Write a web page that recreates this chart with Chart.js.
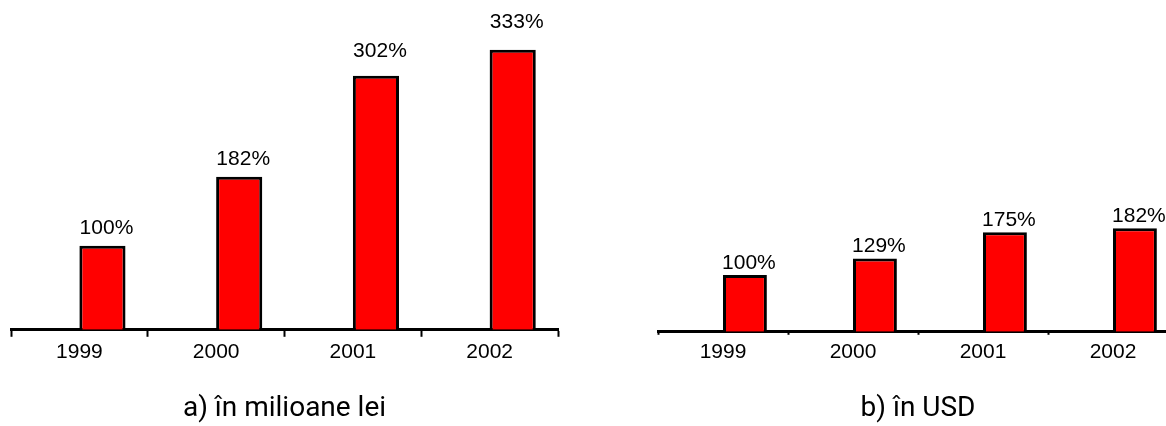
<!DOCTYPE html>
<html>
<head>
<meta charset="utf-8">
<script src="https://cdn.jsdelivr.net/npm/chart.js@4/dist/chart.umd.min.js"></script>
<style>
  html, body { margin: 0; padding: 0; background: #fff; overflow: hidden; }
  body { width: 1166px; height: 426px; position: relative; }
  canvas { position: absolute; top: 0; }
  #chartLei { left: 0; }
  #chartUsd { left: 646px; }
</style>
</head>
<body>
<canvas id="chartLei" width="570" height="426"></canvas>
<canvas id="chartUsd" width="544" height="426"></canvas>
<script>
// Data
const years = ['1999', '2000', '2001', '2002'];
const leiValues = [100, 182, 302, 333];
const usdValues = [100, 129, 175, 182];
const titleLei = 'a) în milioane lei';
const titleUsd = 'b) în USD';

const fontFamily = '"Liberation Sans", Arial, sans-serif';
const titleFamily = 'Roboto, "Liberation Sans", sans-serif';

// Small plugin that writes "NNN%" above each bar
const percentLabels = {
    id: 'percentLabels',
    afterDatasetsDraw(chart, args, opts) {
        const ctx = chart.ctx;
        const meta = chart.getDatasetMeta(1);
        const values = chart.data.datasets[1].data;
        ctx.save();
        ctx.font = '21px ' + fontFamily;
        ctx.fillStyle = '#000';
        ctx.textAlign = 'center';
        ctx.textBaseline = 'alphabetic';
        meta.data.forEach((bar, i) => {
            const lift = opts.lift[i];
            ctx.fillText(values[i] + '%', bar.x + 4, bar.y - lift);
        });
        ctx.restore();
    }
};

function makeChart(id, values, title, yMax, opt) {
    const ctx = document.getElementById(id).getContext('2d');
    return new Chart(ctx, {
        type: 'bar',
        data: {
            labels: years,
            datasets: [
                { data: years.map(() => null) },   // empty series, keeps bar right of centre
                {
                    data: values,
                    backgroundColor: '#ff0000',
                    borderColor: '#000',
                    borderWidth: 3
                }
            ]
        },
        options: {
            responsive: false,
            animation: false,
            devicePixelRatio: 1,
            layout: { padding: { left: opt.padLeft, right: opt.padRight, top: 0, bottom: 0 } },
            datasets: { bar: { barPercentage: 1, categoryPercentage: 0.675 } },
            scales: {
                x: {
                    grid: {
                        drawOnChartArea: false,
                        drawTicks: true,
                        tickLength: opt.tickLength,
                        tickWidth: 2,
                        tickColor: '#000',
                        offset: true
                    },
                    border: { color: '#000', width: 3 },
                    ticks: {
                        color: '#000',
                        font: { family: fontFamily, size: 21 },
                        padding: opt.tickPadding
                    }
                },
                y: { display: false, min: 0, max: yMax }
            },
            plugins: {
                legend: { display: false },
                tooltip: { enabled: false },
                title: {
                    display: true,
                    text: title,
                    position: 'bottom',
                    color: '#000',
                    font: { family: titleFamily, size: 28, weight: 'normal', lineHeight: 1 },
                    padding: { top: opt.titleTop, bottom: 3 }
                },
                percentLabels: { lift: opt.lift }
            }
        },
        plugins: [percentLabels]
    });
}

makeChart('chartLei', leiValues, titleLei, 392, {
    padLeft: 11, padRight: 12, tickLength: 7, tickPadding: 3, titleTop: 27,
    lift: [12, 12, 19, 22]
});

makeChart('chartUsd', usdValues, titleUsd, 583, {
    padLeft: 12, padRight: 12, tickLength: 3, tickPadding: 5, titleTop: 25,
    lift: [6, 6, 6, 6]
});
</script>
</body>
</html>
